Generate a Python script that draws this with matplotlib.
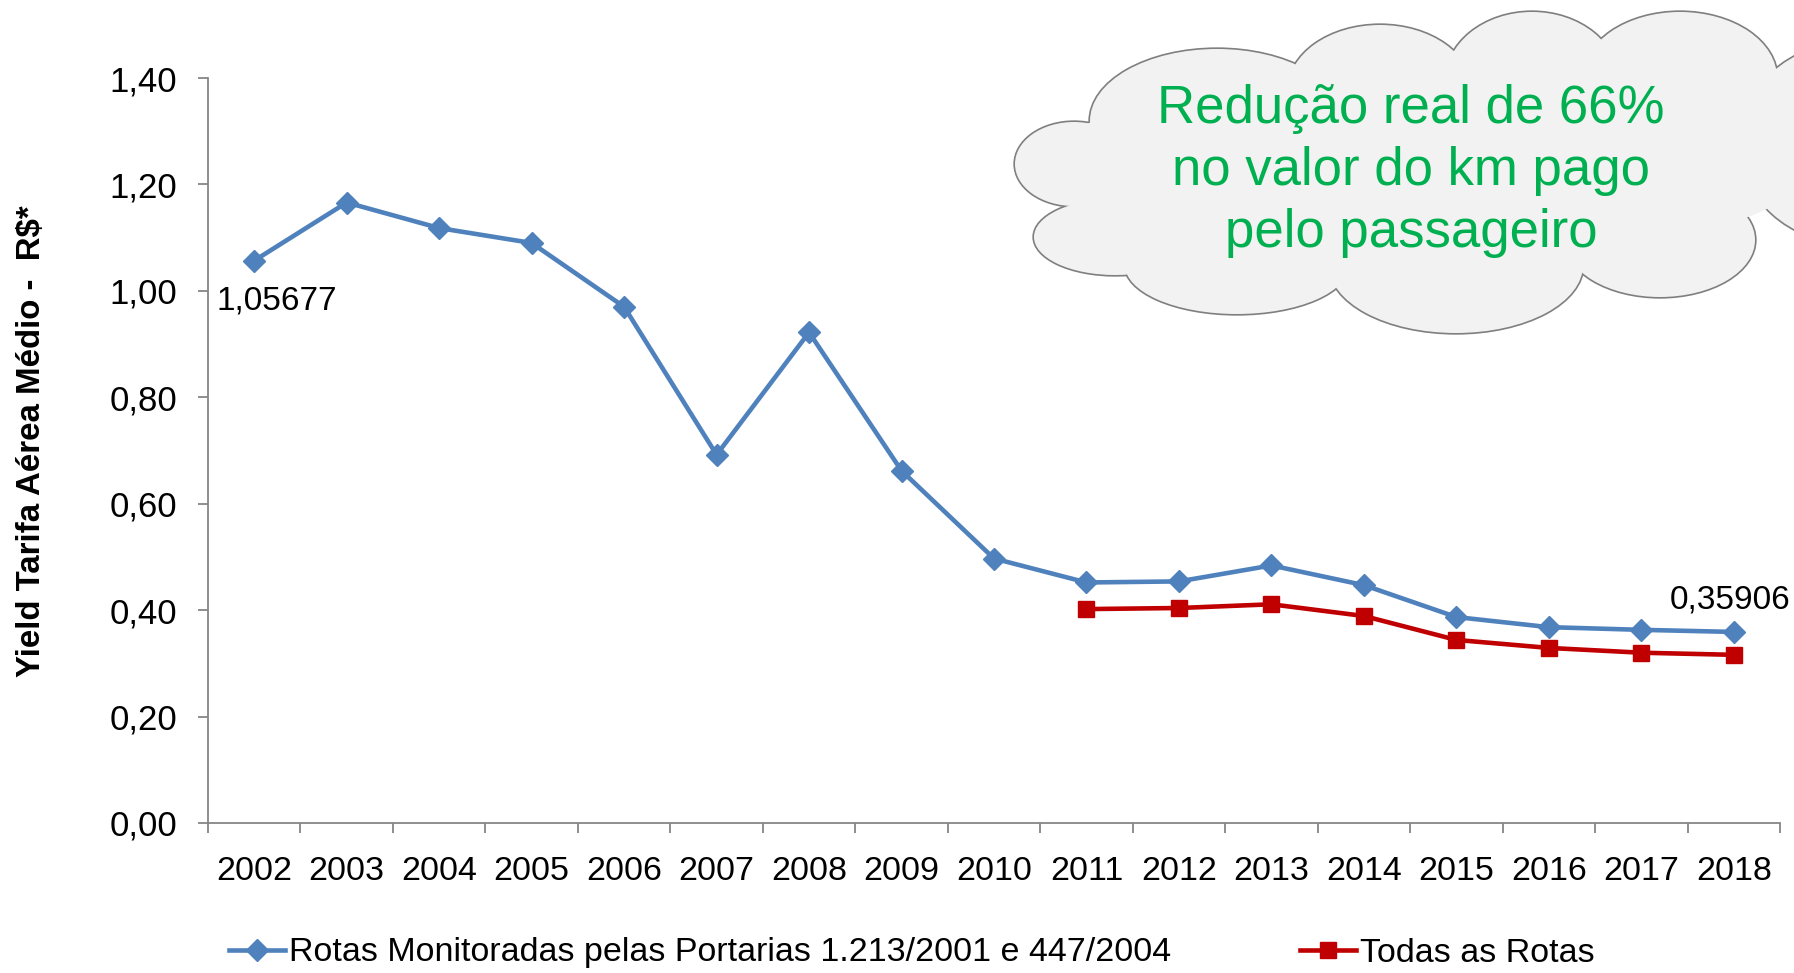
import numpy as np
import matplotlib.pyplot as plt
from matplotlib.patches import Ellipse
from matplotlib.ticker import FixedLocator

# dados
anos = ['2002', '2003', '2004', '2005', '2006', '2007', '2008', '2009', '2010',
        '2011', '2012', '2013', '2014', '2015', '2016', '2017', '2018']
rotas_monitoradas = [1.05677, 1.166, 1.118, 1.090, 0.970, 0.692, 0.922, 0.662, 0.497,
                     0.452, 0.454, 0.484, 0.447, 0.387, 0.368, 0.363, 0.35906]
anos_todas = ['2011', '2012', '2013', '2014', '2015', '2016', '2017', '2018']
todas_rotas = [0.402, 0.404, 0.411, 0.389, 0.344, 0.329, 0.320, 0.316]
yticks = [0.0, 0.2, 0.4, 0.6, 0.8, 1.0, 1.2, 1.4]

azul = '#4f81bd'
vermelho = '#c00000'
cinza = '#868686'
fonte = 'Liberation Sans'

fig = plt.figure(figsize=(17.94, 9.73), dpi=100)
fig.patch.set_facecolor('white')
ax = fig.add_axes([208/1794, 1 - 823/973, (1780-208)/1794, (823-78)/973])

x = np.arange(len(anos))
x_todas = [anos.index(a) for a in anos_todas]
l1, = ax.plot(x, rotas_monitoradas, color=azul, lw=3.3, marker='D', ms=11,
              label='Rotas Monitoradas pelas Portarias 1.213/2001 e 447/2004')
l2, = ax.plot(x_todas, todas_rotas, color=vermelho, lw=3.3, marker='s', ms=11,
              label='Todas as Rotas')

ax.set_xlim(-0.5, len(anos) - 0.5)
ax.set_ylim(0, 1.4)
ax.set_yticks(yticks)
ax.set_yticklabels([f'{v:.2f}'.replace('.', ',') for v in yticks], fontfamily=fonte, fontsize=25)
ax.set_xticks(x)
ax.set_xticklabels(anos, fontfamily=fonte, fontsize=24.5)
ax.xaxis.set_minor_locator(FixedLocator(np.arange(-0.5, len(anos), 1.0)))
ax.tick_params(axis='x', which='major', length=0, pad=24)
ax.tick_params(axis='x', which='minor', length=7, width=1.3, color=cinza, direction='out')
ax.tick_params(axis='y', length=7, width=1.3, color=cinza, direction='out', pad=15)
for s in ['top', 'right']:
    ax.spines[s].set_visible(False)
for s in ['left', 'bottom']:
    ax.spines[s].set_color(cinza)
    ax.spines[s].set_linewidth(1.3)

# titulo do eixo y, ajustado ao comprimento do original (~472 px)
lab = fig.text(32/1794, 1 - 441/973, 'Yield Tarifa Aérea Médio -  R$*', rotation=90,
               ha='center', va='center', fontfamily=fonte, fontweight='bold', fontsize=20)
r = fig.canvas.get_renderer()
h = lab.get_window_extent(r).height
lab.set_fontsize(20 * 472 / h)

# rotulos de dados
ax.annotate('1,05677', (x[0], rotas_monitoradas[0]), xytext=(23, -40),
            textcoords='offset pixels', ha='center', va='center', fontfamily=fonte, fontsize=24)
ax.annotate('0,35906', (x[-1], rotas_monitoradas[-1]), xytext=(-4, 32),
            textcoords='offset pixels', ha='center', va='center', fontfamily=fonte, fontsize=24)

# legenda
fig.legend(handles=[l1, l2], loc='center left', bbox_to_anchor=(229/1794, 1 - 953/973),
           ncol=2, frameon=False, prop={'family': fonte, 'size': 24.5}, borderpad=0,
           borderaxespad=0, handlelength=1.65, handletextpad=0.1, columnspacing=3.8)

# nuvem
ov = fig.add_axes([0, 0, 1, 1])
ov.set_xlim(0, 1794)
ov.set_ylim(973, 0)
ov.axis('off')
lobos = [(1074, 164, 59, 42), (1115, 237, 81, 38), (1237, 265, 112, 49), (1456, 265, 127, 68),
         (1660, 240, 95, 57), (1850, 143, 110, 100), (1680, 78, 97, 66), (1532, 82, 87, 70),
         (1380, 90, 92, 65), (1217, 121, 127, 72)]
for cx, cy, rx, ry in lobos:
    ov.add_patch(Ellipse((cx, cy), 2*rx, 2*ry, facecolor='#f2f2f2', edgecolor='#7f7f7f', lw=2.4, zorder=1))
for cx, cy, rx, ry in lobos + [(1430, 165, 380, 95)]:
    ov.add_patch(Ellipse((cx, cy), 2*rx, 2*ry, facecolor='#f2f2f2', edgecolor='none', zorder=2))
ov.text(1411, 171, 'Redução real de 66%\nno valor do km pago\npelo passageiro', ha='center', va='center',
        fontfamily=fonte, fontsize=38, color='#00b050', linespacing=1.3, zorder=3)

fig.savefig('out.png', dpi=100)
